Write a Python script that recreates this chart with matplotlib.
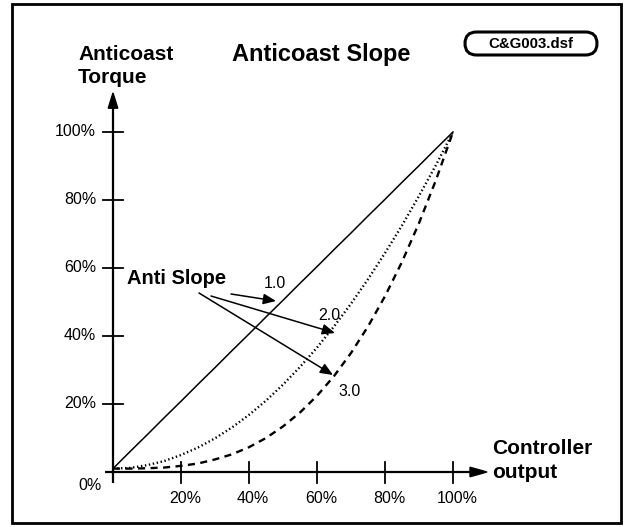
import numpy as np
import matplotlib
matplotlib.use("Agg")
import matplotlib.pyplot as plt
from matplotlib.patches import Rectangle, FancyBboxPatch

plt.rcParams['font.family'] = ['Liberation Sans', 'DejaVu Sans']

# controller output (fraction) and anticoast torque for each slope setting
x_out = [0.0, 0.05, 0.10, 0.15, 0.20, 0.25, 0.30, 0.35, 0.40, 0.45, 0.50,
         0.55, 0.60, 0.65, 0.70, 0.75, 0.80, 0.85, 0.90, 0.95, 1.0]
slope_1 = [0.010, 0.060, 0.109, 0.159, 0.208, 0.258, 0.307, 0.357, 0.406, 0.456, 0.505,
           0.555, 0.604, 0.654, 0.703, 0.753, 0.802, 0.852, 0.901, 0.951, 1.0]
slope_2 = [0.010, 0.012, 0.020, 0.032, 0.050, 0.072, 0.099, 0.131, 0.168, 0.210, 0.257,
           0.309, 0.366, 0.428, 0.495, 0.567, 0.644, 0.725, 0.812, 0.903, 1.0]
slope_3 = [0.010, 0.010, 0.011, 0.013, 0.018, 0.025, 0.037, 0.052, 0.073, 0.100, 0.134,
           0.175, 0.224, 0.282, 0.350, 0.428, 0.517, 0.618, 0.732, 0.859, 1.0]

ticks = [0.2, 0.4, 0.6, 0.8, 1.0]
tick_labels = ['20%', '40%', '60%', '80%', '100%']
slope_names = ['1.0', '2.0', '3.0']

W, H = 625, 527
X0, Y0, S = 113, 472, 340   # origin pixel and pixels per unit

fig = plt.figure(figsize=(W / 100, H / 100), dpi=100)
ax = fig.add_axes([0, 0, 1, 1])
ax.set_xlim(-X0 / S, (W - X0) / S)
ax.set_ylim(-(H - Y0) / S, Y0 / S)
ax.axis('off')

def px(x, y):
    return (x - X0) / S, (Y0 - y) / S

# outer frame
fig.patches.append(Rectangle((12 / W, 1 - 523 / H), 609 / W, 519 / H,
                             transform=fig.transFigure, fill=False, lw=2, ec='black'))

# axes with arrow heads
ax.plot([-0.024, 1.06], [0, 0], color='black', lw=1.6, solid_capstyle='butt')
ax.plot([0, 0], [-0.032, 1.07], color='black', lw=1.6, solid_capstyle='butt')
ax.fill([1.05, 1.1, 1.05], [-0.014, 0, 0.014], color='black')
ax.fill([-0.014, 0, 0.014], [1.07, 1.115, 1.07], color='black')

for t, lab in zip(ticks, tick_labels):
    ax.plot([t, t], [-0.032, 0.03], color='black', lw=1.3)
    ax.plot([-0.03, 0.03], [t, t], color='black', lw=1.3)
    ax.text(t + 0.012, -0.077, lab, ha='center', va='center', fontsize=11.5)
    ax.text(-0.05, t, lab, ha='right', va='center', fontsize=11.5)
ax.text(-0.068, -0.041, '0%', ha='center', va='center', fontsize=11.5)

# curves
ax.plot(x_out, slope_1, color='black', lw=1.1)
ax.plot(x_out, slope_2, color='black', lw=1.7, linestyle=(0, (0.6, 1.1)))
ax.plot(x_out, slope_3, color='black', lw=1.7, linestyle=(0, (3.0, 2.3)))

# labels
ax.text(*px(78, 55), 'Anticoast', ha='left', va='center', fontsize=15, fontweight='bold')
ax.text(*px(78, 78), 'Torque', ha='left', va='center', fontsize=15, fontweight='bold')
ax.text(*px(232, 55), 'Anticoast Slope', ha='left', va='center', fontsize=17, fontweight='bold')
ax.text(*px(492, 448), 'Controller', ha='left', va='center', fontsize=15, fontweight='bold')
ax.text(*px(492, 472), 'output', ha='left', va='center', fontsize=15, fontweight='bold')

bx0, by0 = px(465, 55)
bx1, by1 = px(597, 32)
ax.add_patch(FancyBboxPatch((bx0, by0), bx1 - bx0, by1 - by0,
                            boxstyle='round,pad=0,rounding_size=%f' % ((by1 - by0) / 2),
                            fill=False, lw=2.2, ec='black'))
ax.text((bx0 + bx1) / 2, (by0 + by1) / 2, 'C&G003.dsf', ha='center', va='center',
        fontsize=10.8, fontweight='bold')

# "Anti Slope" callouts
ax.text(*px(127, 279), 'Anti Slope', ha='left', va='center', fontsize=14.5, fontweight='bold')
starts = [(231, 294), (211, 296), (199, 293)]
tips = [(276, 301), (335, 333), (333, 375)]
label_pos = [(275, 284), (329, 316), (350, 391)]
for name, s, t, lp in zip(slope_names, starts, tips, label_pos):
    ax.annotate('', xy=px(*t), xytext=px(*s),
                arrowprops=dict(arrowstyle='-|>,head_length=0.38,head_width=0.16',
                                mutation_scale=20, lw=1.1, color='black',
                                shrinkA=0, shrinkB=0))
    ax.text(*px(*lp), name, ha='center', va='center', fontsize=11.5)

fig.savefig('out.png', dpi=100)
